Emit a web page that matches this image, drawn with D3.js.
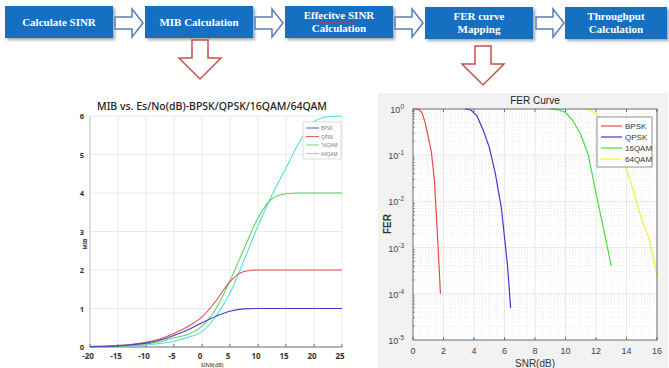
<!DOCTYPE html>
<html>
<head>
<meta charset="utf-8">
<script src="https://cdn.jsdelivr.net/npm/d3@7"></script>
<style>
  body { margin: 0; background: #fff; }
  svg { display: block; }
</style>
</head>
<body>
<div id="chart"></div>
<script>
// ---- data ----
const steps = ["Calculate SINR", "MIB Calculation", "Effecitve SINR|Calculation", "FER curve|Mapping", "Throughput|Calculation"];

const mibSnr = [-20, -17.5, -15, -12.5, -10, -7.5, -5, -2.5, 0, 2.5, 5, 7.5, 10, 12.5, 15, 17.5, 20, 22.5, 25];
const mibBpsk  = [0.01, 0.02, 0.03, 0.06, 0.1, 0.18, 0.3, 0.45, 0.63, 0.8, 0.93, 0.99, 1, 1, 1, 1, 1, 1, 1];
const mibQpsk  = [0.01, 0.02, 0.04, 0.07, 0.12, 0.21, 0.35, 0.53, 0.78, 1.2, 1.7, 1.96, 2, 2, 2, 2, 2, 2, 2];
const mib16qam = [0.005, 0.01, 0.02, 0.04, 0.08, 0.14, 0.24, 0.33, 0.54, 1.0, 1.72, 2.55, 3.35, 3.85, 3.98, 4, 4, 4, 4];
const mib64qam = [0.003, 0.006, 0.01, 0.025, 0.05, 0.09, 0.15, 0.25, 0.4, 0.8, 1.4, 2.25, 3.15, 3.95, 4.65, 5.35, 5.85, 5.98, 6];
const mibTicksX = [-20, -15, -10, -5, 0, 5, 10, 15, 20, 25];
const mibTicksY = [0, 1, 2, 3, 4, 5, 6];

const ferBpskSnr = [0, 0.2, 0.4, 0.6, 0.8, 1.0, 1.2, 1.4, 1.6, 1.8];
const ferBpsk    = [1, 1, 0.97, 0.82, 0.5, 0.25, 0.12, 0.03, 0.002, 0.0001];
const ferQpskSnr = [3.4, 3.8, 4.2, 4.6, 5.0, 5.4, 5.8, 6.2, 6.4];
const ferQpsk    = [1, 0.95, 0.7, 0.35, 0.15, 0.04, 0.007, 0.0004, 0.00005];
const fer16Snr   = [9, 9.5, 10, 10.5, 11, 11.5, 12, 12.5, 13];
const fer16qam   = [1, 0.97, 0.85, 0.55, 0.28, 0.1, 0.015, 0.0025, 0.0004];
const fer64Snr   = [11.2, 11.6, 12, 12.5, 13, 13.5, 14, 14.5, 15, 15.5, 16];
const fer64qam   = [1, 0.95, 0.8, 0.6, 0.35, 0.15, 0.05, 0.015, 0.004, 0.0015, 0.00025];
const ferTicksX = [0, 2, 4, 6, 8, 10, 12, 14, 16];
const ferTicksY = [1, 0.1, 0.01, 0.001, 0.0001, 0.00001];

const width = 669, height = 368;
const svg = d3.select("#chart").append("svg").attr("width", width).attr("height", height);

const defs = svg.append("defs");
const sh = defs.append("filter").attr("id", "shadow").attr("x", "-10%").attr("y", "-20%").attr("width", "130%").attr("height", "160%");
sh.append("feDropShadow").attr("dx", 2).attr("dy", 2).attr("stdDeviation", 1.5).attr("flood-color", "#000").attr("flood-opacity", 0.35);

// ---- flow boxes ----
const boxX = d3.scalePoint().domain(d3.range(steps.length)).range([5, 565]);
const boxW = 108, boxH = 32;
const boxes = svg.append("g").selectAll("g").data(steps).join("g")
  .attr("transform", (d, i) => `translate(${boxX(i)},${6 + (i > 2 ? 1 : 0)})`);
boxes.append("rect")
  .attr("width", (d, i) => i === 4 ? 102 : boxW).attr("height", boxH)
  .attr("fill", "#1570c2").attr("filter", "url(#shadow)");
boxes.each(function(d, i) {
  const lines = d.split("|");
  const t = d3.select(this).append("text")
    .attr("text-anchor", "middle")
    .attr("font-family", "'Liberation Serif', serif").attr("font-weight", "bold")
    .attr("font-size", 11).attr("fill", "#fff");
  const cx = (i === 4 ? 102 : boxW) / 2;
  lines.forEach((l, k) => {
    t.append("tspan").attr("x", cx)
      .attr("y", lines.length === 1 ? 20 : 13 + k * 13)
      .text(l);
  });
});
// spell-check squiggle under "Effecitve"
svg.append("path")
  .attr("d", d3.range(0, 42, 2).map((v, k) => (k ? "L" : "M") + (317 + v) + "," + (22 + (k % 2))).join(""))
  .attr("fill", "none").attr("stroke", "#e03030").attr("stroke-width", 0.7);

// hollow right arrows between boxes
const rightArrow = "M0,11 L17,11 L17,3 L28,17 L17,31 L17,23 L0,23 Z";
[115, 255, 395, 536].forEach(x => {
  svg.append("path").attr("d", rightArrow)
    .attr("transform", `translate(${x},6)`)
    .attr("fill", "#fff").attr("stroke", "#5a7fb5").attr("stroke-width", 1.5);
});
// red down arrows
const downArrow = "M13,0 L29,0 L29,18 L42,18 L21,39 L0,18 L13,18 Z";
[[179, 40], [462, 46]].forEach(([x, y]) => {
  svg.append("path").attr("d", downArrow)
    .attr("transform", `translate(${x},${y})`)
    .attr("fill", "#fff").attr("stroke", "#c8504a").attr("stroke-width", 1.5);
});

// ---- MIB chart ----
const xM = d3.scaleLinear().domain([-20, 25]).range([90, 342]);
const yM = d3.scaleLinear().domain([0, 6]).range([347, 116]);
const gM = svg.append("g");

gM.append("g").selectAll("line").data(mibTicksX).join("line")
  .attr("x1", d => xM(d)).attr("x2", d => xM(d)).attr("y1", yM(0)).attr("y2", yM(6))
  .attr("stroke", "#e4e4e4").attr("stroke-width", 0.8);
gM.append("g").selectAll("line").data(mibTicksY).join("line")
  .attr("x1", xM(-20)).attr("x2", xM(25)).attr("y1", d => yM(d)).attr("y2", d => yM(d))
  .attr("stroke", "#e4e4e4").attr("stroke-width", 0.8);
gM.append("line").attr("x1", xM(-20)).attr("x2", xM(25)).attr("y1", yM(0)).attr("y2", yM(0))
  .attr("stroke", "#555").attr("stroke-width", 0.8);
gM.append("line").attr("x1", xM(-20)).attr("x2", xM(-20)).attr("y1", yM(0)).attr("y2", yM(6))
  .attr("stroke", "#bbb").attr("stroke-width", 0.8);
gM.append("g").selectAll("line").data(mibTicksX).join("line")
  .attr("x1", d => xM(d)).attr("x2", d => xM(d)).attr("y1", yM(0)).attr("y2", yM(0) - 3)
  .attr("stroke", "#555").attr("stroke-width", 0.8);

gM.append("g").selectAll("text").data(mibTicksX).join("text")
  .attr("x", d => xM(d) - 2).attr("y", 359).attr("text-anchor", "middle")
  .attr("font-family", "'Noto Sans', sans-serif").attr("font-size", 8).attr("font-weight", "bold").attr("fill", "#333")
  .text(d => d);
gM.append("g").selectAll("text").data(mibTicksY).join("text")
  .attr("x", 82).attr("y", d => yM(d) + 3).attr("text-anchor", "middle")
  .attr("font-family", "'Noto Sans', sans-serif").attr("font-size", 7.5).attr("font-weight", "bold").attr("fill", "#333")
  .text(d => d);
gM.append("text").attr("x", 212).attr("y", 367).attr("text-anchor", "middle")
  .attr("font-family", "'Noto Sans', sans-serif").attr("font-size", 5.5).attr("fill", "#333").text("SINR(dB)");
gM.append("text").attr("transform", "translate(87,244) rotate(-90)").attr("text-anchor", "middle")
  .attr("font-family", "'Noto Sans', sans-serif").attr("font-size", 5.5).attr("font-weight", "bold").attr("fill", "#333").text("MIB");
gM.append("text").attr("x", 212).attr("y", 110).attr("text-anchor", "middle")
  .attr("font-family", "'Noto Sans', sans-serif").attr("font-size", 10.5).attr("font-weight", 500).attr("fill", "#222")
  .text("MIB vs. Es/No(dB)-BPSK/QPSK/16QAM/64QAM");

const mibSeries = [
  { name: "BPSK", values: mibBpsk, color: "#4040d0" },
  { name: "QPSK", values: mibQpsk, color: "#e05050" },
  { name: "16QAM", values: mib16qam, color: "#60d060" },
  { name: "64QAM", values: mib64qam, color: "#50e0e0" }
];
const lineM = d3.line().x(d => xM(d[0])).y(d => yM(d[1])).curve(d3.curveMonotoneX);
gM.append("g").selectAll("path").data(mibSeries.slice().reverse()).join("path")
  .attr("d", s => lineM(mibSnr.map((x, i) => [x, s.values[i]])))
  .attr("fill", "none").attr("stroke", s => s.color).attr("stroke-width", 1.1);

const legM = gM.append("g").attr("transform", "translate(303,122)");
legM.append("rect").attr("width", 38).attr("height", 37).attr("fill", "#fff").attr("stroke", "#ccc").attr("stroke-width", 0.7);
legM.selectAll("g").data(mibSeries).join("g")
  .attr("transform", (d, i) => `translate(0,${6 + i * 8.5})`)
  .each(function(d) {
    const g = d3.select(this);
    g.append("line").attr("x1", 3).attr("x2", 16).attr("stroke", d.color).attr("stroke-width", 0.9);
    g.append("text").attr("x", 18).attr("y", 2).attr("font-family", "'Noto Sans', sans-serif")
      .attr("font-size", 4.8).attr("fill", "#777").text(d.name);
  });

// ---- FER chart ----
svg.append("rect").attr("x", 378).attr("y", 93).attr("width", 290).attr("height", 275).attr("fill", "#f2f2f2");
const xF = d3.scaleLinear().domain([0, 16]).range([413, 657]);
const yF = d3.scaleLog().domain([1e-5, 1]).range([340, 109]);
const gF = svg.append("g");
gF.append("rect").attr("x", xF(0)).attr("y", yF(1)).attr("width", xF(16) - xF(0)).attr("height", yF(1e-5) - yF(1)).attr("fill", "#fff");

const minorX = d3.range(0, 16.01, 0.5).filter(v => v % 2 !== 0);
const minorY = [];
for (let e = -5; e < 0; e++) for (let m = 2; m < 10; m++) minorY.push(m * Math.pow(10, e));
gF.append("g").selectAll("line").data(minorX).join("line")
  .attr("x1", d => xF(d)).attr("x2", d => xF(d)).attr("y1", yF(1)).attr("y2", yF(1e-5))
  .attr("stroke", "#dcdcdc").attr("stroke-width", 0.6).attr("stroke-dasharray", "1,2");
gF.append("g").selectAll("line").data(minorY).join("line")
  .attr("x1", xF(0)).attr("x2", xF(16)).attr("y1", d => yF(d)).attr("y2", d => yF(d))
  .attr("stroke", "#dcdcdc").attr("stroke-width", 0.6).attr("stroke-dasharray", "1,2");
gF.append("g").selectAll("line").data(ferTicksX).join("line")
  .attr("x1", d => xF(d)).attr("x2", d => xF(d)).attr("y1", yF(1)).attr("y2", yF(1e-5))
  .attr("stroke", "#e2e2e2").attr("stroke-width", 0.8);
gF.append("g").selectAll("line").data(ferTicksY).join("line")
  .attr("x1", xF(0)).attr("x2", xF(16)).attr("y1", d => yF(d)).attr("y2", d => yF(d))
  .attr("stroke", "#e2e2e2").attr("stroke-width", 0.8);

const ferSeries = [
  { name: "BPSK", snr: ferBpskSnr, values: ferBpsk, color: "#e84848" },
  { name: "QPSK", snr: ferQpskSnr, values: ferQpsk, color: "#3a3ad8" },
  { name: "16QAM", snr: fer16Snr, values: fer16qam, color: "#40e040" },
  { name: "64QAM", snr: fer64Snr, values: fer64qam, color: "#f0f040" }
];
const lineF = d3.line().x(d => xF(d[0])).y(d => yF(d[1]));
gF.append("g").selectAll("path").data(ferSeries).join("path")
  .attr("d", s => lineF(s.snr.map((x, i) => [x, s.values[i]])))
  .attr("fill", "none").attr("stroke", s => s.color).attr("stroke-width", 1.2);

// box and ticks
gF.append("rect").attr("x", xF(0)).attr("y", yF(1)).attr("width", xF(16) - xF(0)).attr("height", yF(1e-5) - yF(1))
  .attr("fill", "none").attr("stroke", "#555").attr("stroke-width", 0.8);
gF.append("g").selectAll("line").data(ferTicksX).join("line")
  .attr("x1", d => xF(d)).attr("x2", d => xF(d)).attr("y1", yF(1e-5)).attr("y2", yF(1e-5) - 3)
  .attr("stroke", "#555").attr("stroke-width", 0.8);
gF.append("g").selectAll("line").data(ferTicksX).join("line")
  .attr("x1", d => xF(d)).attr("x2", d => xF(d)).attr("y1", yF(1)).attr("y2", yF(1) + 3)
  .attr("stroke", "#555").attr("stroke-width", 0.8);
gF.append("g").selectAll("line").data(minorY).join("line")
  .attr("x1", xF(0)).attr("x2", xF(0) + 2).attr("y1", d => yF(d)).attr("y2", d => yF(d))
  .attr("stroke", "#555").attr("stroke-width", 0.6);

gF.append("g").selectAll("text").data(ferTicksX).join("text")
  .attr("x", d => xF(d)).attr("y", 354).attr("text-anchor", "middle")
  .attr("font-family", "'Liberation Sans', sans-serif").attr("font-size", 9).attr("fill", "#444")
  .text(d => d);
const yLab = gF.append("g").selectAll("text").data(ferTicksY).join("text")
  .attr("x", 404).attr("y", d => yF(d) + 4).attr("text-anchor", "end")
  .attr("font-family", "'Liberation Sans', sans-serif").attr("font-size", 9).attr("fill", "#444");
yLab.append("tspan").text("10");
yLab.append("tspan").attr("dy", -4).attr("font-size", 6.5).text(d => Math.round(Math.log10(d)));

gF.append("text").attr("x", 535).attr("y", 104).attr("text-anchor", "middle")
  .attr("font-family", "'Liberation Sans', sans-serif").attr("font-size", 10).attr("fill", "#222").text("FER Curve");
gF.append("text").attr("x", 535).attr("y", 367).attr("text-anchor", "middle")
  .attr("font-family", "'Liberation Sans', sans-serif").attr("font-size", 10).attr("fill", "#333").text("SNR(dB)");
gF.append("text").attr("transform", "translate(391,224) rotate(-90)").attr("text-anchor", "middle")
  .attr("font-family", "'Liberation Sans', sans-serif").attr("font-size", 10).attr("font-weight", "bold").attr("fill", "#333").text("FER");

const legF = gF.append("g").attr("transform", "translate(597,117)");
legF.append("rect").attr("width", 55).attr("height", 50).attr("fill", "#fff").attr("stroke", "#777").attr("stroke-width", 0.8);
legF.selectAll("g").data(ferSeries).join("g")
  .attr("transform", (d, i) => `translate(0,${9 + i * 11})`)
  .each(function(d) {
    const g = d3.select(this);
    g.append("line").attr("x1", 4).attr("x2", 25).attr("stroke", d.color).attr("stroke-width", 1.2);
    g.append("text").attr("x", 28).attr("y", 3).attr("font-family", "'Liberation Sans', sans-serif")
      .attr("font-size", 8).attr("fill", "#333").text(d.name);
  });
</script>
</body>
</html>
